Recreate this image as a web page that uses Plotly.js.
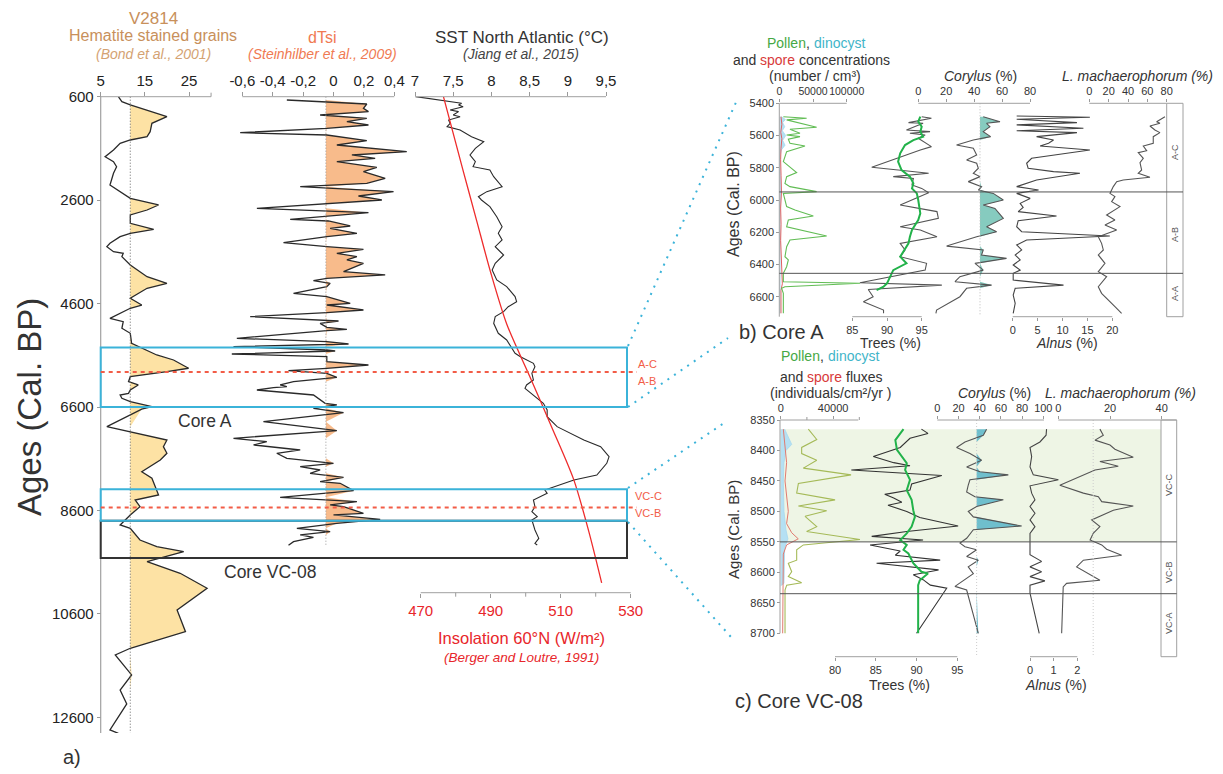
<!DOCTYPE html>
<html><head><meta charset="utf-8">
<script src="https://cdn.plot.ly/plotly-3.0.1.min.js"></script>
<style>html,body{margin:0;padding:0;background:#fff}#chart{width:1223px;height:774px}</style>
</head><body><div id="chart"></div>
<script>
// ---------------- DATA ----------------
// Panel a : V2814 hematite stained grains (%)
const hemAge = [600,697,760,857,987,1114,1277,1373,1437,1501,1631,1760,1857,1953,2081,2307,2437,2565,2694,2791,2887,3048,3164,3241,3307,3435,3500,3597,3628,3693,3854,4080,4208,4305,4498,4628,4691,4885,4950,5078,5175,5368,5594,5691,5851,5917,6014,6111,6174,6271,6335,6368,6432,6497,6594,6640,6981,7077,7238,7367,7495,7624,7851,7978,8301,8398,8527,8688,8881,8945,9172,9301,9397,9591,9815,10105,10525,10944,11265,11395,11781,12072,12342,12845,12910];
const hemVal = [9.0,9.8,11.7,15.5,20.0,16.6,16.2,15.5,11.7,9.4,7.9,6.0,7.9,8.6,7.9,7.1,9.4,11.7,18.1,15.5,11.7,11.7,17.0,11.7,9.4,7.1,6.4,7.9,10.1,9.8,11.7,15.5,20.0,15.5,11.7,14.3,11.7,7.1,10.1,9.8,11.7,12.0,17.7,21.5,24.9,20.0,11.7,11.3,13.5,11.7,11.3,9.4,9.8,11.7,16.6,14.3,6.4,11.7,20.0,19.2,20.0,18.5,14.3,16.6,18.1,12.8,13.9,11.7,9.4,11.7,13.9,17.7,23.8,15.5,23.0,29.1,22.3,24.2,11.7,8.3,12.0,9.4,10.9,7.1,9.0];
const hemBase = 11.7;
// dTsi (W/m2)
const tsiAge = [664,741,825,889,954,1018,1083,1147,1212,1296,1341,1450,1534,1663,1727,1792,1856,1966,2049,2178,2275,2340,2436,2520,2597,2662,2758,2842,2907,2971,3003,3100,3145,3242,3306,3422,3500,3551,3628,3693,3757,3822,3983,4047,4112,4157,4208,4273,4402,4466,4595,4628,4724,4776,4853,4918,4937,4982,5059,5098,5124,5272,5337,5382,5433,5498,5517,5575,5627,5723,5788,5852,5897,5949,6026,6110,6174,6207,6226,6271,6368,6529,6561,6625,6709,6883,7057,7205,7270,7334,7431,7495,7592,7689,7753,7818,7882,7959,8043,8075,8217,8346,8430,8494,8526,8655,8687,8771,8849,8945,9010,9074,9119,9203,9274];
const tsiVal = [-0.307,0.219,0.197,0.230,-0.088,0.219,0.088,0.230,-0.044,-0.614,-0.044,0.219,0.022,0.482,0.121,0.274,0.022,0.285,0.197,0.340,0.219,-0.219,0.395,0.164,0.318,-0.044,-0.504,0.230,-0.044,-0.285,-0.033,0.110,-0.022,0.154,-0.044,-0.329,-0.044,0.197,0.022,0.154,0.088,0.197,0.066,0.340,-0.044,-0.132,-0.022,-0.044,-0.263,-0.044,0.110,-0.044,0.197,-0.044,-0.548,-0.044,0.033,-0.088,-0.044,0.088,-0.044,-0.636,-0.044,0.099,-0.658,-0.044,0.011,-0.669,-0.044,-0.044,0.230,-0.044,-0.296,-0.044,0.022,-0.263,-0.351,-0.307,-0.395,-0.504,-0.132,-0.055,0.022,-0.132,0.066,-0.461,0.022,-0.658,-0.439,-0.526,-0.219,-0.373,-0.307,0.000,-0.219,-0.088,-0.154,0.066,-0.088,0.044,0.132,-0.351,0.154,-0.022,0.066,0.197,0.000,0.307,0.022,-0.241,-0.022,-0.219,-0.132,-0.263,-0.296];
const tsiBase = -0.05;
// SST North Atlantic (°C)
const sstAge = [599,728,761,793,857,889,954,986,1051,1115,1179,1244,1373,1469,1598,1727,1856,1953,2017,2146,2340,2436,2533,2597,2726,2920,3113,3242,3371,3500,3661,3822,3951,4144,4273,4466,4563,4660,4756,4853,4982,5175,5304,5433,5562,5627,5755,5820,5949,6078,6174,6239,6400,6529,6658,6787,6980,7109,7238,7367,7560,7689,7818,7915,8011,8172,8204,8269,8398,8527,8624,8720,8785,8978,9139,9236,9268];
const sstVal = [7.01,7.61,7.57,7.63,7.46,7.57,7.50,7.59,7.44,7.46,7.42,7.59,7.74,7.90,7.79,7.72,7.79,7.76,7.98,8.03,8.14,7.94,7.83,7.87,7.98,8.07,8.14,8.09,8.14,8.05,8.16,8.05,8.01,8.07,8.20,8.31,8.33,8.22,8.16,8.05,8.03,8.09,8.20,8.25,8.31,8.38,8.55,8.57,8.53,8.55,8.46,8.44,8.57,8.68,8.73,8.73,8.86,9.03,9.21,9.43,9.54,9.51,9.43,9.38,9.08,8.77,8.70,8.73,8.55,8.57,8.53,8.60,8.53,8.57,8.62,8.57,8.60];
// Insolation 60°N (W/m2)
const insAge = [600,2000,3000,4000,5000,6000,7000,8000,9000,10000];
const insVal = [476.5,482.0,486.0,490.0,494.6,501.1,507.5,513.7,518.0,521.7];
// Panel a boxes (ages)
const coreABox = [5450, 6600];
const coreABoundary = 5925;
const vcBox = [8190, 8800];
const vcBoundary = 8545;
const vcCoreBox = [8800, 9520];

// Panel b : Core A
const concAgeB = [5483,5493,5503,5549,5561,5586,5597,5607,5623,5648,5665,5700,5762,5830,5855,5897,5917,5948,5959,6000,6041,6062,6099,6124,6166,6223,6248,6290,6352,6372,6414,6455,6507,6517,6538,6548,6579,6703];
const pollenConcB = [6000,40600,10900,55400,15800,30700,10900,30700,13400,15800,38100,10900,6000,25700,10900,8400,15800,55400,6000,8400,10900,23300,50500,13400,10900,70300,15800,10900,8400,13400,10900,6000,6000,119800,8400,3500,6000,6000];
const dinoAgeB = [5483,5500,5520,5545,5570,5600,5630,5660,5690,5720,5800,5900,5950,6050,6200,6350,6500,6600,6703];
const dinoConcB = [3000,9000,5000,8000,4500,9500,5000,8500,3000,1500,1200,1500,2500,1200,1500,1200,2000,1200,1200];
const sporeAgeB = [5483,5530,5580,5620,5680,5750,5850,5950,6050,6150,6250,6350,6450,6520,6560,6620,6703];
const sporeConcB = [2500,3800,2200,3800,2500,2000,2600,3200,2000,2600,2000,2800,3000,4500,2500,2200,2500];
const treesAgeB = [5483,5493,5520,5524,5566,5576,5586,5597,5617,5669,5690,5752,5797,5814,5834,5855,5866,5907,5928,5955,6031,6072,6114,6166,6186,6228,6269,6310,6352,6393,6435,6513,6528,6555,6600,6631,6683,6703];
const treesB = [95.0,96.4,93.1,95.2,92.8,96.2,93.3,95.5,94.5,96.4,94.8,90.7,87.8,91.6,96.0,90.9,93.8,93.6,95.0,96.0,91.9,97.2,97.4,91.9,94.8,97.2,91.9,92.6,91.9,95.7,95.5,86.1,97.9,87.3,88.0,86.6,89.5,89.5];
const treesSmAgeB = [5483,5514,5545,5576,5607,5628,5659,5710,5762,5814,5855,5897,5928,5959,6000,6083,6124,6186,6228,6269,6352,6393,6435,6517,6538,6559];
const treesSmB = [94.8,94.5,95.0,94.8,95.2,93.8,92.6,91.9,91.6,92.1,93.3,93.8,93.6,94.3,94.5,94.8,94.5,93.6,93.3,93.1,91.9,92.8,90.9,90.0,89.5,88.5];
const corAgeB = [5483,5514,5524,5545,5576,5607,5628,5659,5679,5721,5752,5772,5803,5834,5855,5886,5917,5938,5959,6000,6031,6052,6114,6166,6197,6228,6286,6310,6341,6362,6393,6435,6476,6507,6528,6548,6600,6683,6703];
const corB = [46.5,58.5,48.9,51.3,46.5,51.8,39.4,27.4,39.4,41.8,34.6,41.8,43.0,39.4,44.2,35.8,45.3,43.0,53.7,60.9,46.5,54.9,60.9,48.9,56.1,41.8,20.3,46.5,45.3,63.2,40.6,46.5,29.8,26.3,52.5,34.6,29.8,13.1,12.6];
const corBaseB = 44.2;
const alnAgeB = [5479,5487,5499,5520,5534,5555,5570,5582,5607,5628,5648,5665,5690,5741,5772,5803,5824,5834,5876,5917,5938,5959,5990,6021,6046,6072,6099,6128,6166,6197,6223,6248,6279,6310,6341,6372,6403,6435,6455,6497,6528,6548,6590,6641,6703];
const alnB = [0.8,15.5,0.8,12.9,0.8,14.2,0.8,12.9,4.8,8.2,7.2,5.5,15.5,3.8,2.8,3.1,8.2,13.5,4.8,0.8,5.2,0.8,3.5,1.5,2.1,1.1,8.8,1.1,0.8,1.8,19.5,2.8,0.8,1.8,0.5,1.5,0.1,1.5,0.1,0.1,10.2,0.5,0.1,0.5,0.1];
const lmaAgeB = [5483,5514,5524,5541,5566,5582,5607,5648,5665,5694,5706,5741,5768,5814,5834,5859,5876,5886,5917,5938,5959,5979,6010,6041,6093,6124,6155,6186,6228,6269,6310,6341,6393,6445,6476,6538,6579,6662,6703];
const lmaB = [78.2,69.6,73.0,62.7,67.8,73.0,66.1,66.1,55.8,59.3,50.6,55.8,52.4,54.1,50.6,62.7,35.1,28.3,24.8,23.1,21.4,26.5,23.1,31.7,17.9,26.5,16.2,28.3,9.3,12.7,14.5,9.3,16.2,9.3,17.9,9.3,12.7,26.5,33.4];
const zonesB = [5950, 6455];
const zoneNamesB = ['A-C','A-B','A-A'];

// Panel c : Core VC-08
const fluxAgeC = [8365,8382,8395,8405,8416,8429,8440,8454,8470,8481,8491,8499,8508,8525,8533,8546,8555,8563,8580,8585,8599,8607,8617,8621,8629,8700];
const pollenFluxC = [21100,27500,16000,16000,27500,17300,53700,13500,12200,41500,13500,35100,18600,27500,19800,60500,17300,12200,12200,5800,8400,5800,16000,4600,3300,3300];
const dinoAgeC = [8365,8375,8383,8390,8400,8420,8450,8500,8530,8545,8560,8590,8618,8622];
const dinoFluxC = [3000,5000,7000,8400,4000,2500,2000,2500,4000,5500,3000,2500,2500,0];
const sporeAgeC = [8365,8390,8420,8450,8480,8500,8520,8535,8545,8555,8570,8600,8630,8700];
const sporeFluxC = [2000,3300,4500,3300,4500,5800,4500,8400,13400,4500,2000,2000,1500,1500];
const treesAgeC = [8365,8372,8380,8395,8410,8420,8425,8432,8441,8455,8465,8472,8478,8485,8490,8500,8510,8524,8533,8541,8547,8555,8565,8572,8580,8585,8596,8604,8612,8621,8626,8700];
const treesC = [90.6,91.4,89.2,88.0,84.7,87.2,89.2,82.0,93.1,89.4,89.2,86.1,87.2,88.2,86.5,88.8,90.4,95.1,88.8,84.5,90.8,84.3,88.0,87.4,92.9,85.1,92.7,89.6,90.8,91.7,93.7,90.0];
const treesSmAgeC = [8365,8383,8399,8421,8432,8448,8465,8481,8498,8509,8525,8536,8547,8555,8563,8569,8585,8599,8602,8613,8621,8629,8700];
const treesSmC = [88.4,87.4,87.6,88.8,88.6,89.2,88.8,89.4,89.6,89.8,89.4,88.8,88.0,88.8,88.4,89.0,89.6,90.6,91.4,90.4,90.2,90.2,90.2];
const corAgeC = [8365,8375,8386,8395,8405,8416,8427,8435,8440,8448,8457,8468,8476,8481,8492,8500,8509,8524,8530,8544,8552,8558,8563,8574,8580,8591,8602,8613,8623,8629,8700];
const corC = [46.5,43.4,26.1,18.2,30.8,41.8,27.7,40.3,67.0,30.8,29.2,27.7,35.5,62.3,37.1,29.2,34.0,79.6,34.0,27.7,21.4,26.1,37.1,27.7,38.7,29.2,34.0,24.5,16.7,27.7,38.7];
const corBaseC = 37.1;
const alnAgeC = [8365,8375,8386,8395,8410,8427,8440,8448,8458,8470,8481,8492,8503,8514,8525,8536,8552,8571,8582,8591,8599,8607,8614,8621,8634,8700];
const alnC = [0.70,0.68,0.42,0.00,0.07,0.00,0.14,1.20,0.00,0.07,0.21,0.00,0.21,0.00,0.21,0.00,0.00,0.00,0.49,0.00,0.49,0.00,0.63,0.00,0.00,0.39];
const lmaAgeC = [8365,8375,8383,8391,8398,8411,8418,8426,8432,8457,8470,8476,8484,8491,8498,8514,8525,8536,8547,8555,8562,8572,8580,8591,8613,8618,8624,8700];
const lmaC = [16.1,17.4,14.2,20.0,21.9,29.0,16.1,23.2,14.2,0.6,9.7,15.5,16.8,29.0,21.3,12.9,16.1,13.5,12.3,16.8,18.7,24.5,9.7,7.1,16.1,3.2,1.9,1.3];
const lmaRefC = 13.5;
const shadeC = [8365, 8550];
const zonesC = [8550, 8635];
const zoneNamesC = ['VC-C','VC-B','VC-A'];

// tick labels
const hemTicks = [5,15,25], hemMinor = [30];
const tsiTicks = [-0.6,-0.4,-0.2,0,0.2,0.4], tsiTickText = ['-0,6','-0,4','-0,2','0','0,2','0,4'];
const sstTicks = [7,7.5,8,8.5,9,9.5], sstTickText = ['7','7,5','8','8,5','9','9,5'];
const insTicks = [470,490,510,530], insMinor = [480,500,520];
const fluxTicks = [0,40000], fluxMinor = [20000,60000];
const ageTicksA = [600,2600,4600,6600,8600,10600,12600];
const ageTicksB = [5400,5600,5800,6000,6200,6400,6600];
const ageTicksC = [8350,8400,8450,8500,8550,8600,8650,8700];

// ---------------- LAYOUT HELPERS ----------------
const W = 1223, H = 774;
const FONT = 'Liberation Sans, Arial, sans-serif';
const px = v => v / W, py = v => 1 - v / H;
const baseAx = {showgrid: false, zeroline: false, showline: false, ticks: 'outside', ticklen: 4,
  tickcolor: '#9a9a9a', tickwidth: 1, tickmode: 'array', tickangle: 0, fixedrange: true};
function xAxis(dom, p0, v0, p1, v1, o) {
  const k = (p1 - p0) / (v1 - v0);
  return Object.assign({}, baseAx, {
    domain: [px(dom[0]), px(dom[1])],
    range: [v0 + (dom[0] - p0) / k, v0 + (dom[1] - p0) / k]
  }, o);
}
function yAxis(dom, p0, v0, p1, v1, o) {
  const k = (p1 - p0) / (v1 - v0);
  return Object.assign({}, baseAx, {
    domain: [py(dom[1]), py(dom[0])],
    range: [v0 + (dom[1] - p0) / k, v0 + (dom[0] - p0) / k]
  }, o);
}
const fA = {family: FONT, size: 15, color: '#222'};
const fB = {family: FONT, size: 11, color: '#333'};

const traces = [];
function ln(x, y, xa, ya, color, width, extra) {
  traces.push(Object.assign({type: 'scatter', mode: 'lines', x: x, y: y, xaxis: xa, yaxis: ya,
    line: {color: color, width: width}, hoverinfo: 'skip'}, extra || {}));
}
function fillAbove(vals, ages, base, xa, ya, color) {
  ln(ages.map(() => base), ages, xa, ya, 'rgba(0,0,0,0)', 0);
  ln(vals.map(v => Math.max(v, base)), ages, xa, ya, 'rgba(0,0,0,0)', 0, {fill: 'tonextx', fillcolor: color});
}

// Panel a
fillAbove(hemVal, hemAge, hemBase, 'x', 'y', '#fde2a4');
ln(hemVal, hemAge, 'x', 'y', '#2a2a2a', 1.3);
fillAbove(tsiVal, tsiAge, tsiBase, 'x2', 'y', '#f8bb8b');
ln(tsiVal, tsiAge, 'x2', 'y', '#2a2a2a', 1.3);
ln(sstVal, sstAge, 'x3', 'y', '#2a2a2a', 1.1);
ln(insVal, insAge, 'x4', 'y', '#ee2c2c', 1.3, {line: {color: '#ee2c2c', width: 1.3, shape: 'spline', smoothing: 0.8}});

// Panel b
ln(dinoConcB, dinoAgeB, 'x5', 'y2', '#a6d8ef', 0.8, {fill: 'tozerox', fillcolor: '#b5e0f3'});
ln(sporeConcB, sporeAgeB, 'x5', 'y2', '#e06060', 1);
ln(pollenConcB, concAgeB, 'x5', 'y2', '#62bd55', 1.1);
ln(treesB, treesAgeB, 'x6', 'y2', '#555', 1.1);
ln(treesSmB, treesSmAgeB, 'x6', 'y2', '#22b24a', 2);
fillAbove(corB, corAgeB, corBaseB, 'x7', 'y2', '#86cbbf');
ln(corB, corAgeB, 'x7', 'y2', '#555', 1.1);
ln(alnB, alnAgeB, 'x8', 'y2', '#444', 1.1);
ln(lmaB, lmaAgeB, 'x9', 'y2', '#555', 1.1);

// Panel c
ln(dinoFluxC, dinoAgeC, 'x10', 'y3', '#a6d8ef', 0.8, {fill: 'tozerox', fillcolor: '#b5e0f3'});
ln(sporeFluxC, sporeAgeC, 'x10', 'y3', '#e07a70', 1);
ln(pollenFluxC, fluxAgeC, 'x10', 'y3', '#a5ba58', 1.1);
ln(treesC, treesAgeC, 'x11', 'y3', '#333', 1.1);
ln(treesSmC, treesSmAgeC, 'x11', 'y3', '#22b24a', 2);
fillAbove(corC, corAgeC, corBaseC, 'x12', 'y3', '#6fbfcd');
ln(corC, corAgeC, 'x12', 'y3', '#555', 1.1);
ln(alnC, alnAgeC, 'x13', 'y3', '#444', 1.1);
ln(lmaC, lmaAgeC, 'x14', 'y3', '#555', 1.1);

// ---------------- SHAPES ----------------
const shapes = [];
const AX = '#a0a0a0', TK = '#9a9a9a';
function pl(x0, y0, x1, y1, color, width, dash, layer) {
  shapes.push({type: 'line', xref: 'paper', yref: 'paper', x0: px(x0), x1: px(x1), y0: py(y0), y1: py(y1),
    line: {color: color, width: width, dash: dash || 'solid'}, layer: layer || 'above'});
}
function tickMarks(vals, xref, yPx, len) {
  vals.forEach(v => shapes.push({type: 'line', xref: xref, yref: 'paper', x0: v, x1: v, y0: py(yPx), y1: py(yPx + len),
    line: {color: TK, width: 1}}));
}
// panel c shaded interval
shapes.push({type: 'rect', xref: 'paper', yref: 'y3', x0: px(780.5), x1: px(1161), y0: shadeC[0], y1: shadeC[1],
  fillcolor: '#eef5e5', line: {width: 0}, layer: 'below'});
// axis lines panel a
pl(100.7, 96.7, 100.7, 733, AX, 1.2);
pl(100.7, 96.7, 211, 96.7, AX, 1);
pl(242.3, 96.7, 394.3, 96.7, AX, 1);
pl(415, 96.7, 606, 96.7, AX, 1);
pl(420.7, 592.7, 630.7, 592.7, AX, 1);
tickMarks(hemMinor, 'x', 96.7, -4);
tickMarks(insMinor, 'x4', 592.7, 4);
tickMarks(fluxMinor, 'x10', 420, -3);
// dotted baselines
shapes.push({type: 'line', xref: 'x', yref: 'y', x0: hemBase, x1: hemBase, y0: 600, y1: 12900, line: {color: '#666', width: 1, dash: '1px,2px'}});
shapes.push({type: 'line', xref: 'x2', yref: 'y', x0: tsiBase, x1: tsiBase, y0: 600, y1: 9300, line: {color: '#999', width: 1, dash: '1px,2px'}});
shapes.push({type: 'line', xref: 'x7', yref: 'y2', x0: corBaseB, x1: corBaseB, y0: 5400, y1: 6720, line: {color: '#bbb', width: 1, dash: '1px,2px'}});
shapes.push({type: 'line', xref: 'x12', yref: 'y3', x0: corBaseC, x1: corBaseC, y0: 8350, y1: 8738, line: {color: '#ccc', width: 1, dash: '1px,2px'}});
shapes.push({type: 'line', xref: 'x14', yref: 'y3', x0: lmaRefC, x1: lmaRefC, y0: 8350, y1: 8738, line: {color: '#ccc', width: 1, dash: '1px,2px'}});
// panel a boxes
const CY = '#3bb3d9';
shapes.push({type: 'rect', xref: 'paper', yref: 'y', x0: px(100.7), x1: px(627), y0: vcCoreBox[0], y1: vcCoreBox[1], line: {color: '#333', width: 2}});
shapes.push({type: 'rect', xref: 'paper', yref: 'y', x0: px(100.7), x1: px(627), y0: coreABox[0], y1: coreABox[1], line: {color: CY, width: 2}});
shapes.push({type: 'rect', xref: 'paper', yref: 'y', x0: px(100.7), x1: px(627), y0: vcBox[0], y1: vcBox[1], line: {color: CY, width: 2}});
shapes.push({type: 'line', xref: 'paper', yref: 'y', x0: px(100.7), x1: px(637), y0: coreABoundary, y1: coreABoundary, line: {color: '#f25c47', width: 2, dash: '4px,4px'}});
shapes.push({type: 'line', xref: 'paper', yref: 'y', x0: px(100.7), x1: px(637), y0: vcBoundary, y1: vcBoundary, line: {color: '#f25c47', width: 2, dash: '4px,4px'}});
// connectors
pl(628, 346, 737, 100, CY, 2, '2px,6px');
pl(628, 407, 728, 338, CY, 2, '2px,6px');
pl(628, 488, 727, 421, CY, 2, '2px,6px');
pl(628, 522, 731, 637, CY, 2, '2px,6px');
// panel b axes
pl(779.3, 103.3, 779.3, 316.7, AX, 1);
pl(779.3, 103.3, 846.7, 103.3, AX, 1);
pl(918.3, 103.3, 1030, 103.3, AX, 1);
pl(1089.3, 103.3, 1166.7, 103.3, AX, 1);
pl(852.3, 316.7, 921.7, 316.7, AX, 1);
pl(1012.7, 316.7, 1112.3, 316.7, AX, 1);
shapes.push({type: 'rect', xref: 'paper', yref: 'paper', x0: px(1166.7), x1: px(1183), y0: py(316.7), y1: py(103.3), line: {color: AX, width: 1}});
zonesB.forEach(a => shapes.push({type: 'line', xref: 'paper', yref: 'y2', x0: px(779.3), x1: px(1183), y0: a, y1: a, line: {color: '#555', width: 1}}));
// panel c axes
pl(780, 420, 780, 633.3, AX, 1);
pl(780, 420, 858.3, 420, AX, 1);
pl(937.3, 420, 1044, 420, AX, 1);
pl(1058.3, 420, 1176.7, 420, AX, 1);
pl(835, 656.7, 957.3, 656.7, AX, 1);
pl(1030, 656.7, 1077.3, 656.7, AX, 1);
shapes.push({type: 'rect', xref: 'paper', yref: 'paper', x0: px(1161), x1: px(1176.7), y0: py(656.7), y1: py(420), line: {color: AX, width: 1}});
zonesC.forEach(a => shapes.push({type: 'line', xref: 'paper', yref: 'y3', x0: px(780), x1: px(1176.7), y0: a, y1: a, line: {color: '#555', width: 1}}));

// ---------------- ANNOTATIONS ----------------
const anns = [];
function ann(text, x, y, size, color, extra) {
  anns.push(Object.assign({text: text, x: px(x), y: py(y), xref: 'paper', yref: 'paper', showarrow: false,
    xanchor: 'center', yanchor: 'middle', font: {family: FONT, size: size, color: color}}, extra || {}));
}
const L = {xanchor: 'left', borderpad: 0};
const GREEN = '#45a845', TEAL = '#3fb5c9', SRED = '#d83a3a';
ann('V2814', 153, 18, 17, '#c8905b');
ann('Hematite stained grains', 153, 36, 16, '#c8905b');
ann('<i>(Bond et al., 2001)</i>', 153, 54, 14, '#d4a272');
ann('dTsi', 322, 37, 16, '#f07a52');
ann('<i>(Steinhilber et al., 2009)</i>', 322, 54, 14, '#f07a52');
ann('SST North Atlantic (°C)', 522, 37, 17, '#333');
ann('<i>(Jiang et al., 2015)</i>', 521, 54, 14, '#444');
ann('Insolation 60°N (W/m²)', 521, 638, 16.5, '#e8262a');
ann('<i>(Berger and Loutre, 1991)</i>', 521, 657, 13.5, '#e8262a');
ann('Ages (Cal. BP)', 29, 407, 33, '#333', {textangle: -90});
ann('a)', 72, 757, 20, '#333');
ann('Core A', 205, 421, 17.5, '#333');
ann('Core VC-08', 270, 572, 17.5, '#333');
ann('A-C', 647, 364, 11, '#f25c47');
ann('A-B', 647, 381, 11, '#f25c47');
ann('VC-C', 648, 496, 11, '#f25c47');
ann('VC-B', 648, 513, 11, '#f25c47');
// panel b
ann('Pollen', 766, 43, 14, GREEN, L);
ann(',', 805, 43, 14, '#333', L);
ann('dinocyst', 812.7, 43, 14, TEAL, L);
ann('and', 732, 60, 14, '#333', L);
ann('spore', 759.2, 60, 14, SRED, L);
ann('concentrations', 798.1, 60, 14, '#333', L);
ann('(number / cm³)', 815, 76, 14, '#333');
ann('<i>Corylus</i> (%)', 980, 76, 14, '#333');
ann('<i>L. machaerophorum (%)</i>', 1137, 76, 14, '#333');
ann('Trees (%)', 890, 343, 14, '#333');
ann('<i>Alnus</i> (%)', 1067, 343, 14, '#333');
ann('Ages (Cal. BP)', 733, 204, 16, '#333', {textangle: -90});
ann('b) Core A', 737, 332, 20, '#333', {xanchor: 'left'});
ann(zoneNamesB[0], 1175, 152, 9, '#555', {textangle: -90});
ann(zoneNamesB[1], 1175, 235, 9, '#555', {textangle: -90});
ann(zoneNamesB[2], 1175, 294, 9, '#555', {textangle: -90});
// panel c
ann('Pollen', 780, 356, 14, GREEN, L);
ann(',', 819, 356, 14, '#333', L);
ann('dinocyst', 826.7, 356, 14, TEAL, L);
ann('and', 778.5, 377, 14, '#333', L);
ann('spore', 805.7, 377, 14, SRED, L);
ann('fluxes', 844.6, 377, 14, '#333', L);
ann('(individuals/cm²/yr )', 830, 393, 14, '#333');
ann('<i>Corylus</i> (%)', 994, 393, 14, '#333');
ann('<i>L. machaerophorum (%)</i>', 1120, 393, 14, '#333');
ann('Trees (%)', 899, 685, 14, '#333');
ann('<i>Alnus</i> (%)', 1056, 685, 14, '#333');
ann('Ages (Cal. BP)', 733, 530, 15, '#333', {textangle: -90});
ann('c) Core VC-08', 733, 701, 20, '#333', {xanchor: 'left'});
ann(zoneNamesC[0], 1169, 485, 9, '#555', {textangle: -90});
ann(zoneNamesC[1], 1169, 572, 9, '#555', {textangle: -90});
ann(zoneNamesC[2], 1169, 623, 9, '#555', {textangle: -90});

// ---------------- AXES ----------------
const layout = {
  width: W, height: H, margin: {l: 0, r: 0, t: 0, b: 0},
  paper_bgcolor: '#fff', plot_bgcolor: 'rgba(0,0,0,0)', showlegend: false,
  font: {family: FONT},
  xaxis: xAxis([100.7, 215], 100.7, 5, 189, 25, {anchor: 'y', side: 'top', tickvals: hemTicks, ticktext: hemTicks.map(String), tickfont: fA}),
  xaxis2: xAxis([225, 412], 242.3, -0.6, 394.3, 0.4, {anchor: 'y', side: 'top', tickvals: tsiTicks, ticktext: tsiTickText, tickfont: fA}),
  xaxis3: xAxis([412, 615], 415, 7, 606, 9.5, {anchor: 'y', side: 'top', tickvals: sstTicks, ticktext: sstTickText, tickfont: fA}),
  xaxis4: xAxis([420.7, 630.7], 420.7, 470, 630.7, 530, {anchor: 'free', position: py(592.7), side: 'bottom', tickvals: insTicks, ticktext: insTicks.map(String), tickfont: {family: FONT, size: 15, color: '#e8262a'}}),
  yaxis: yAxis([96.7, 733], 96.7, 600, 717.3, 12600, {anchor: 'free', position: px(100.7), tickvals: ageTicksA, ticktext: ageTicksA.map(String), tickfont: fA}),
  xaxis5: xAxis([779.3, 868], 779.3, 0, 846.7, 100000, {anchor: 'y2', side: 'top', tickvals: [0, 50000, 100000], ticktext: ['0', '50000', '100000'], tickfont: {family: FONT, size: 10.5, color: '#333'}, ticklen: 3}),
  xaxis6: xAxis([845, 948], 852.3, 85, 921.7, 95, {anchor: 'y2', side: 'bottom', tickvals: [85, 90, 95], ticktext: ['85', '90', '95'], tickfont: fB, ticklen: 3}),
  xaxis7: xAxis([918.3, 1030], 918.3, 0, 1030, 80, {anchor: 'y2', side: 'top', tickvals: [0, 20, 40, 60, 80], ticktext: ['0', '20', '40', '60', '80'], tickfont: fB, ticklen: 3}),
  xaxis8: xAxis([1005, 1115], 1012.7, 0, 1112.3, 20, {anchor: 'y2', side: 'bottom', tickvals: [0, 5, 10, 15, 20], ticktext: ['0', '5', '10', '15', '20'], tickfont: fB, ticklen: 3}),
  xaxis9: xAxis([1085, 1168], 1089.3, 0, 1166.7, 80, {anchor: 'y2', side: 'top', tickvals: [0, 20, 40, 60, 80], ticktext: ['0', '20', '40', '60', '80'], tickfont: fB, ticklen: 3}),
  yaxis2: yAxis([103.3, 316.7], 103.3, 5400, 296.7, 6600, {anchor: 'free', position: px(779.3), tickvals: ageTicksB, ticktext: ageTicksB.map(String), tickfont: fB, ticklen: 3}),
  xaxis10: xAxis([780, 866], 780.7, 0, 859.3, 60000, {anchor: 'y3', side: 'top', tickvals: fluxTicks, ticktext: fluxTicks.map(String), tickfont: fB, ticklen: 3}),
  xaxis11: xAxis([828, 965], 835, 80, 957.3, 95, {anchor: 'y3', side: 'bottom', tickvals: [80, 85, 90, 95], ticktext: ['80', '85', '90', '95'], tickfont: fB, ticklen: 3}),
  xaxis12: xAxis([937.3, 1045], 937.3, 0, 1043.3, 100, {anchor: 'y3', side: 'top', tickvals: [0, 20, 40, 60, 80, 100], ticktext: ['0', '20', '40', '60', '80', '100'], tickfont: fB, ticklen: 3}),
  xaxis13: xAxis([1025, 1080], 1030, 0, 1077.3, 2, {anchor: 'y3', side: 'bottom', tickvals: [0, 1, 2], ticktext: ['0', '1', '2'], tickfont: fB, ticklen: 3}),
  xaxis14: xAxis([1055, 1177], 1058.3, 0, 1161.7, 40, {anchor: 'y3', side: 'top', tickvals: [0, 20, 40], ticktext: ['0', '20', '40'], tickfont: fB, ticklen: 3}),
  yaxis3: yAxis([420, 656.7], 420, 8350, 633.3, 8700, {anchor: 'free', position: px(780), tickvals: ageTicksC, ticktext: ageTicksC.map(String), tickfont: fB, ticklen: 3}),
  shapes: shapes,
  annotations: anns
};

Plotly.newPlot('chart', traces, layout, {staticPlot: true, displayModeBar: false});
</script></body></html>
